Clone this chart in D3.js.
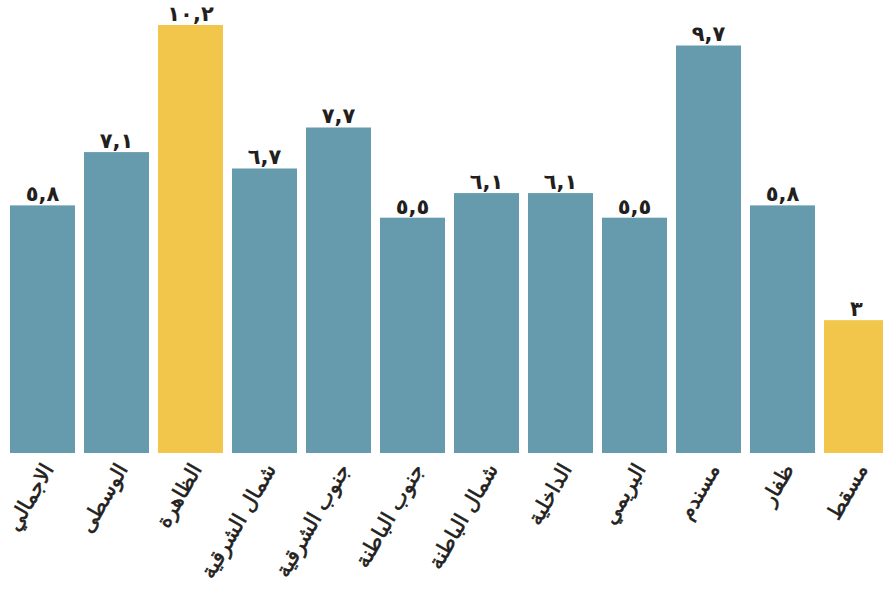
<!DOCTYPE html>
<html>
<head>
<meta charset="utf-8">
<script src="https://cdn.jsdelivr.net/npm/d3@7"></script>
<style>
  body { margin: 0; background: #fff; }
  svg { display: block; }
</style>
</head>
<body>
<div id="chartDiv"></div>
<script>

// regions, left to right as drawn
var regions = ["الاجمالي", "الوسطى", "الظاهرة", "شمال الشرقية", "جنوب الشرقية",
               "جنوب الباطنة", "شمال الباطنة", "الداخلية", "البريمي", "مسندم", "ظفار", "مسقط"];

var values = [5.8, 7.1, 10.2, 6.7, 7.7, 5.5, 6.1, 6.1, 5.5, 9.7, 5.8, 3];

var barColor = "#669bad";
var highColor = "#f2c64b";
var textColor = "#231f20";

var width = 883;
var height = 590;
var baseY = 453;

// 5.8 -> "٥,٨"
function arabicNumber(v){
    var digits = "٠١٢٣٤٥٦٧٨٩";
    var s = String(v).replace(".", ",");
    return s.replace(/[0-9]/g, function(c){ return digits[+c]; });
}

function drawChart(){

    var svg = d3.select("#chartDiv").append("svg")
        .attr("width", width).attr("height", height).attr("id", "mainCanvas");

    var x = d3.scaleBand().domain(regions)
        .range([10, 10 + 74 * regions.length - 9])
        .paddingInner(9 / 74).paddingOuter(0);

    // the original bars sit on a slightly offset base
    var y = d3.scaleLinear().domain([-0.24, 10.2]).range([baseY, 25]);

    var maxV = d3.max(values);
    var minV = d3.min(values);

    // bars
    svg.selectAll("rect.bar").data(values).enter().append("rect")
        .attr("class", "bar")
        .attr("x", function(d, i){ return x(regions[i]); })
        .attr("y", function(d){ return y(d); })
        .attr("width", x.bandwidth())
        .attr("height", function(d){ return baseY - y(d); })
        .attr("fill", function(d){ return (d === maxV || d === minV) ? highColor : barColor; });

    // value labels
    svg.selectAll("text.val").data(values).enter().append("text")
        .attr("class", "val")
        .attr("x", function(d, i){ return x(regions[i]) + x.bandwidth() / 2; })
        .attr("y", function(d){ return y(d) - 4; })
        .attr("text-anchor", "middle")
        .attr("font-family", "DejaVu Sans")
        .attr("font-weight", "bold")
        .attr("font-size", 21)
        .attr("letter-spacing", -1)
        .attr("fill", textColor)
        .text(function(d){ return arabicNumber(d); });

    // category labels, rotated
    svg.selectAll("text.cat").data(regions).enter().append("text")
        .attr("class", "cat")
        .attr("transform", function(d){
            var cx = x(d) + x.bandwidth() / 2 + 12;
            return "translate(" + cx + "," + (baseY + 16) + ") rotate(-60)";
        })
        .attr("text-anchor", "end")
        .attr("font-family", "DejaVu Sans")
        .attr("font-size", 21)
        .attr("fill", textColor)
        .attr("stroke", textColor)
        .attr("stroke-width", 0.6)
        .text(function(d){ return d; });
}

drawChart();
</script>
</body>
</html>
